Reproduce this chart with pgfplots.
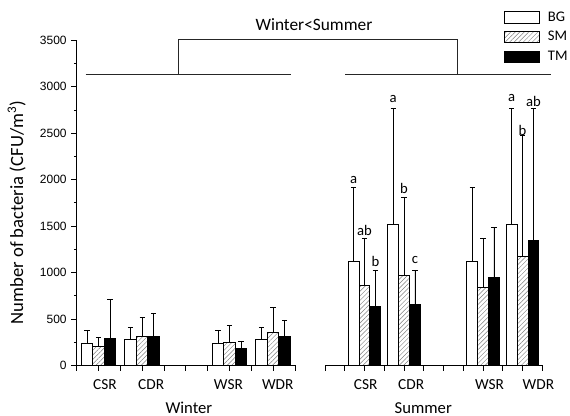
\documentclass[border=0pt]{standalone}
\usepackage{pgfplots}
\pgfplotsset{compat=1.18}
\usepackage{pgfplotstable}
\usetikzlibrary{patterns.meta}
\usepackage{fontspec}
\setmainfont{Carlito}
\newfontfamily\arialf{Liberation Sans}

\pgfplotstableread{
x BG eBG SM eSM TM eTM
1 239 144 203 101 286 420
3 278 133 307 212 314 244
7 235 148 246 183 181 83
9 278 133 358 265 314 166
}\winter
\pgfplotstableread{
x BG eBG SM eSM TM eTM
2 1119 802 860 507 634 388
4 1522 1243 965 848 652 370
8 1119 802 843 524 946 536
10 1522 1243 1169 1311 1345 1420
}\summer

\tikzset{
  bgbar/.style={draw=black, fill=white, line width=0.75pt},
  smbar/.style={draw=black, line width=0.75pt, pattern={Lines[angle=45,distance=2.4pt,line width=0.35pt]}, pattern color=black!50},
  tmbar/.style={draw=black, fill=black, line width=0.75pt},
  lettr/.style={anchor=base, font=\fontsize{11}{12}\selectfont, inner sep=0pt},
}
\pgfplotsset{
  common/.style={
    scale only axis, height=243.9pt, ymin=0, ymax=3500,
    ybar=0pt,
    axis x line*=bottom,
    axis line style={-, line width=0.75pt},
    tick align=outside, major tick length=4pt, minor tick length=2.2pt,
    tick style={line width=0.6pt, black},
    clip=false,
    xticklabels={},
    extra x tick style={major tick length=0pt,
      tick label style={anchor=base, yshift=-18.3pt, font=\fontsize{11.5}{13}\selectfont}},
    xlabel style={anchor=base, yshift=-35.9pt, font=\fontsize{12.5}{14}\selectfont},
    error bars/y dir=plus, error bars/y explicit,
    error bars/error mark=-,
    error bars/error bar style={line width=0.6pt, draw=black},
    error bars/error mark options={rotate=90, mark size=2pt, line width=0.6pt, draw=black},
  },
  boxleg/.style={legend image code/.code={\draw[##1] (0pt,-4.3pt) rectangle (26.25pt,4.3pt);}},
}

\begin{document}
\begin{tikzpicture}
\path[use as bounding box] (0,0) rectangle (427.5pt,312pt);

\begin{axis}[common, at={(57.53pt,37.88pt)}, anchor=south west, width=163.7pt,
  xmin=0, xmax=10, bar width=0.53,
  axis y line*=left,
  ytick={0,500,...,3500}, minor y tick num=1,
  xtick={0,...,10},
  extra x ticks={1.29,3.41,6.95,9.21}, extra x tick labels={CSR,CDR,WSR,WDR},
  xlabel={Winter}, xlabel style={at={(axis description cs:0.514,0)}},
  ylabel={Number of bacteria (CFU/m\textsuperscript{3})},
  ylabel style={at={(axis description cs:-0.275,0.47)}, anchor=center, font=\fontsize{14}{16}\selectfont},
  yticklabel style={font=\arialf\fontsize{9}{10}\selectfont},
  /pgf/number format/assume math mode=true, /pgf/number format/1000 sep={},
]
\addplot[bgbar, bar shift=-0.53] table[x=x, y=BG, y error=eBG] {\winter};
\addplot[smbar, bar shift=0] table[x=x, y=SM, y error=eSM] {\winter};
\addplot[tmbar, bar shift=0.53] table[x=x, y=TM, y error=eTM] {\winter};
\end{axis}

\begin{axis}[common, at={(243.75pt,37.88pt)}, anchor=south west, width=163pt,
  xmin=0, xmax=11, bar width=0.55,
  axis y line=none, ytick=\empty,
  xtick={0,...,11},
  extra x ticks={2.06,4.36,8.33,10.8}, extra x tick labels={CSR,CDR,WSR,WDR},
  xlabel={Summer}, xlabel style={at={(axis description cs:0.452,0)}},
  legend style={at={(rel axis cs:0.8205,1.09)}, anchor=north west, draw=none, fill=none,
    inner sep=0pt, row sep=5.4pt, column sep=6.3pt,
    nodes={inner sep=0pt, font=\fontsize{11}{12}\selectfont}},
  legend cell align=left,
]
\addplot[bgbar, boxleg, bar shift=-0.55] table[x=x, y=BG, y error=eBG] {\summer};
\addlegendentry{BG}
\addplot[smbar, boxleg, bar shift=0] table[x=x, y=SM, y error=eSM] {\summer};
\addlegendentry{SM}
\addplot[tmbar, boxleg, bar shift=0.55] table[x=x, y=TM, y error=eTM] {\summer};
\addlegendentry{TM}

\node[lettr] at (axis cs:1.45,1963) {a};
\node[lettr] at (axis cs:2,1396) {ab};
\node[lettr] at (axis cs:2.55,1065) {b};
\node[lettr] at (axis cs:3.45,2826) {a};
\node[lettr] at (axis cs:4,1848) {b};
\node[lettr] at (axis cs:4.55,1094) {c};
\node[lettr] at (axis cs:9.45,2843) {a};
\node[lettr] at (axis cs:10,2473) {b};
\node[lettr] at (axis cs:10.55,2789) {ab};
\end{axis}

\draw[line width=0.75pt, black!85] (64.3pt,256.3pt) -- (218.25pt,256.3pt);
\draw[line width=0.75pt, black!85] (258.75pt,256.4pt) -- (413pt,256.4pt);
\draw[line width=0.75pt, black!85] (134pt,256.3pt) -- (134pt,282.5pt) -- (343.3pt,282.5pt) -- (343.3pt,256.4pt);
\node[font=\fontsize{13}{15}\selectfont] at (235.5pt,293.25pt) {Winter<Summer};
\end{tikzpicture}
\end{document}
